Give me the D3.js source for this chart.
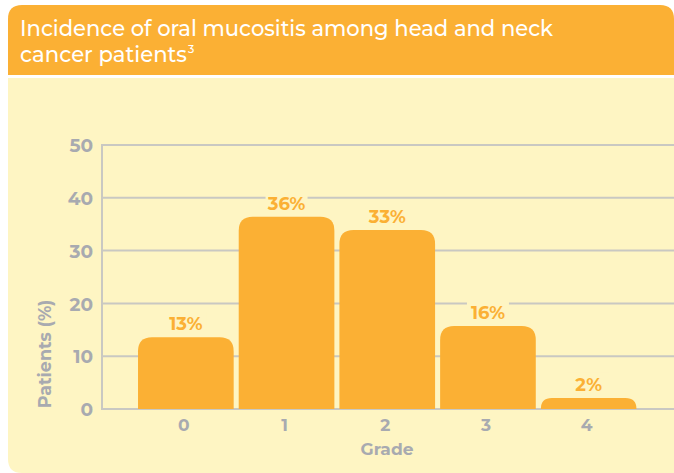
<!DOCTYPE html>
<html><head><meta charset="utf-8">
<script src="https://cdn.jsdelivr.net/npm/d3@7"></script>
<style>html,body{margin:0;padding:0;background:#fff;overflow:hidden}</style>
</head><body>
<script>
const grades = ["0","1","2","3","4"];
const values = [13.6, 36.4, 33.9, 15.7, 2.1];
const valueLabels = ["13%","36%","33%","16%","2%"];
const yTicks = [0,10,20,30,40,50];

const W = 674, H = 473;
const orange = "#FBB034", panel = "#FEF5C3", gray = "#A8AAB0", grid = "#C9C8C2";
const font = "Montserrat, 'Open Sans', 'DejaVu Sans', sans-serif";

const svg = d3.select("body").append("svg").attr("width", W).attr("height", H);

function roundTop(x, y, w, h, r) {
  return `M${x},${y+h}V${y+r}Q${x},${y} ${x+r},${y}H${x+w-r}Q${x+w},${y} ${x+w},${y+r}V${y+h}Z`;
}
svg.append("path").attr("d", roundTop(8, 5, 666, 70, 14)).attr("fill", orange);
svg.append("path").attr("d", `M8,78H674V473H22Q8,473 8,459Z`).attr("fill", panel);

const title = svg.append("g").attr("fill", "#fff").attr("font-family", font)
  .attr("font-size", 21.5).attr("font-weight", 500);
title.append("text").attr("x", 20).attr("y", 35.5).attr("textLength", 533)
  .attr("lengthAdjust", "spacingAndGlyphs").text("Incidence of oral mucositis among head and neck");
title.append("text").attr("x", 20).attr("y", 61.5).attr("textLength", 167)
  .attr("lengthAdjust", "spacingAndGlyphs").text("cancer patients");
title.append("text").attr("x", 188).attr("y", 53).attr("font-size", 11).text("3");

const x = d3.scaleBand().domain(grades).range([135.5, 639]).paddingInner(0.05).paddingOuter(0.025);
const y = d3.scaleLinear().domain([0, 50]).range([409, 145]);

svg.append("g").selectAll("line").data(yTicks).join("line")
  .attr("x1", 102).attr("x2", W).attr("y1", d => y(d)).attr("y2", d => y(d))
  .attr("stroke", grid).attr("stroke-width", 2);
svg.append("line").attr("x1", 102).attr("x2", 102).attr("y1", y(50) - 1).attr("y2", y(0) + 1)
  .attr("stroke", grid).attr("stroke-width", 2);

const yAxis = svg.append("g").attr("transform", "translate(93,0)")
  .call(d3.axisLeft(y).tickValues(yTicks).tickSize(0).tickPadding(0));
yAxis.select(".domain").remove();
yAxis.selectAll("text").attr("fill", gray).attr("font-family", font).attr("font-size", 18.5)
  .attr("font-weight", 700).attr("dy", "0.36em");

const xAxis = svg.append("g").attr("transform", `translate(0,${y(0)})`)
  .call(d3.axisBottom(x).tickSize(0).tickPadding(10));
xAxis.select(".domain").remove();
xAxis.selectAll("text").attr("fill", gray).attr("font-family", font).attr("font-size", 17)
  .attr("font-weight", 700).attr("dy", "0.71em").attr("dx", -2);

function barPath(x0, y0, w, h, r) {
  r = Math.min(r, h, w / 2);
  return `M${x0},${y0+h}V${y0+r}Q${x0},${y0} ${x0+r},${y0}H${x0+w-r}Q${x0+w},${y0} ${x0+w},${y0+r}V${y0+h}Z`;
}
svg.append("g").selectAll("path").data(values).join("path")
  .attr("d", (d, i) => barPath(x(grades[i]), y(d), x.bandwidth(), y(0) - y(d), 14))
  .attr("fill", orange);

const lg = svg.append("g").selectAll("g").data(values).join("g")
  .attr("transform", (d, i) => `translate(${x(grades[i]) + x.bandwidth() / 2},${y(d) - 7})`);
lg.append("rect").attr("x", -21).attr("y", -18).attr("width", 42).attr("height", 18).attr("fill", panel);
lg.append("text").attr("text-anchor", "middle").attr("fill", orange).attr("font-family", font)
  .attr("font-size", 18).attr("font-weight", 700).text((d, i) => valueLabels[i]);

svg.append("text").attr("x", 387).attr("y", 455).attr("text-anchor", "middle").attr("fill", gray)
  .attr("font-family", font).attr("font-size", 17).attr("font-weight", 700).text("Grade");
svg.append("text").attr("transform", "translate(51,354) rotate(-90)").attr("text-anchor", "middle")
  .attr("fill", gray).attr("font-family", font).attr("font-size", 17.5).attr("font-weight", 700).text("Patients (%)");
</script>
</body></html>
